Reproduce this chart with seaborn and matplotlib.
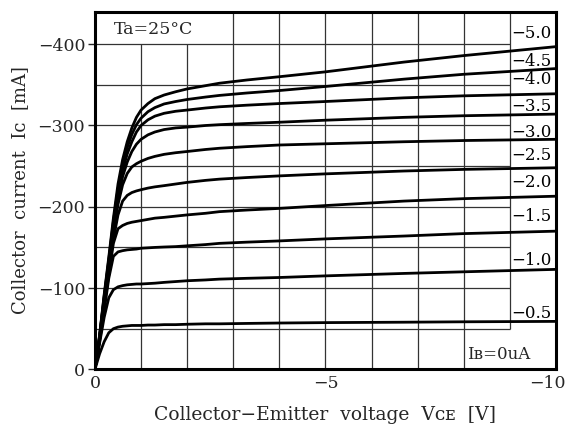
import numpy as np
import pandas as pd
import matplotlib
matplotlib.use('Agg')
import matplotlib.pyplot as plt
import matplotlib.transforms as mtrans
import seaborn as sns

# VCE points [V] shared by all curves
vce = [0, -0.1, -0.2, -0.3, -0.4, -0.5, -0.6, -0.7, -0.8, -0.9, -1.0, -1.15,
       -1.3, -1.5, -1.75, -2.0, -2.4, -2.7, -3.3, -4.0, -5.0, -6.7, -8.0, -10.0]

# base current labels [mA]
ib_labels = ['−0.5', '−1.0', '−1.5', '−2.0', '−2.5',
             '−3.0', '−3.5', '−4.0', '−4.5', '−5.0']

# collector current magnitude [mA] for each base current
ic_05 = [0, 19, 34, 45, 50, 52, 53, 53.5, 54, 54, 54, 54.5,
         54.5, 55, 55, 55.5, 56, 56, 56.5, 57, 57.5, 58, 58.5, 59]
ic_10 = [0, 32, 64, 88, 98, 101.5, 103, 104, 104.5, 105, 105, 105.5,
         106, 107, 108, 109, 110, 111, 112, 113, 115, 118, 120, 123]
ic_15 = [0, 34, 72, 112, 139, 144.5, 146, 147, 147.5, 148, 149, 149.5,
         150, 150.5, 151, 152, 153.5, 155, 156.5, 158, 160.5, 164, 167, 170]
ic_20 = [0, 36, 78, 116, 155, 173, 177, 179.5, 181, 182, 183, 184.5,
         186, 187, 188.5, 190, 192, 194, 196, 198, 201.5, 207, 210, 213]
ic_25 = [0, 37, 82, 122, 160, 190, 207, 214, 217.5, 219.5, 221, 223,
         224.5, 226, 228, 230, 232.5, 234, 236, 238, 240.5, 244, 246, 248]
ic_30 = [0, 38, 84, 126, 168, 203, 227, 241, 249, 253, 256, 259.5,
         262, 264.5, 266.5, 268, 270.5, 272, 274, 276, 277.5, 280, 281.5, 283]
ic_35 = [0, 39, 86, 129, 173, 210, 237, 255, 268, 277, 283, 288.5,
         292, 295, 297, 298, 300, 301, 302.5, 304, 306.5, 310, 312, 314]
ic_40 = [0, 40, 88, 132, 178, 216, 245, 265, 280, 292, 300, 307,
         311.5, 315, 317.5, 319, 321.5, 323, 325, 327, 329.5, 334, 336.5, 339]
ic_45 = [0, 41, 90, 135, 182, 222, 252, 273, 289, 301, 309, 317,
         322, 326.5, 329.5, 332, 335, 337, 340, 343, 348, 357, 363, 370]
ic_50 = [0, 42, 92, 138, 186, 228, 258, 280, 297, 310, 319, 327,
         333, 337.5, 341.5, 345, 349, 352, 356, 360, 366, 378, 386, 397]

# label heights at the right edge [mA]
label_ic = [69, 134.5, 188, 229.5, 263.5, 291, 323, 356, 379, 413]

curves = [ic_05, ic_10, ic_15, ic_20, ic_25, ic_30, ic_35, ic_40, ic_45, ic_50]
rows = []
for lab, ic in zip(ib_labels, curves):
    for v, i in zip(vce, ic):
        rows.append({'ib': lab, 'vce': v, 'ic': -i})
df = pd.DataFrame(rows)

sns.set_theme(style='white')
plt.rcParams['font.family'] = ['DejaVu Serif', 'DejaVu Sans']
plt.rcParams['axes.unicode_minus'] = True

fig = plt.figure(figsize=(5.72, 4.33), dpi=100)
ax = fig.add_axes([0.166, 0.147, 0.806, 0.826])

# grid (drawn by hand, it stops short of the label column)
gcol = '#333333'
ax.hlines(np.arange(-50, -401, -50), 0, -9, colors=gcol, lw=0.9, zorder=1)
ax.vlines([-3, -4, -5, -6, -7, -8], 0, -440, colors=gcol, lw=0.9, zorder=1)
ax.vlines([-1, -2], 0, -400, colors=gcol, lw=0.9, zorder=1)
ax.vlines(-9, -50, -440, colors=gcol, lw=0.9, zorder=1)

sns.lineplot(data=df, x='vce', y='ic', hue='ib', units='ib', estimator=None,
             sort=False, palette={k: 'black' for k in ib_labels},
             lw=2.0, legend=False, ax=ax, zorder=3)

for lab, y in zip(ib_labels, label_ic):
    ax.text(-9.03, -y, lab, ha='left', va='center', fontsize=12, color='black')

ax.text(-0.42, -418, 'Ta=25°C', ha='left', va='center', fontsize=12.5)
ax.text(-8.07, -18, 'Iʙ=0uA', ha='left', va='center', fontsize=12)

ax.set_xlim(0, -10)
ax.set_ylim(0, -440)
ax.set_xticks([0, -5, -10])
ax.set_yticks([0, -100, -200, -300, -400])
ax.tick_params(axis='y', direction='out', length=5, width=1, pad=2, labelsize=12.5, left=True)
ax.tick_params(axis='x', length=0, pad=4, labelsize=12.5)

# last x tick label sits a little to the left so it stays inside the figure
last = ax.get_xticklabels()[-1]
last.set_transform(last.get_transform() + mtrans.ScaledTranslation(-6 / 72, 0, fig.dpi_scale_trans))

for s in ax.spines.values():
    s.set_linewidth(2.2)
    s.set_color('black')

ax.set_xlabel('Collector−Emitter  voltage  Vᴄᴇ  [V]', fontsize=13.5, labelpad=10)
ax.set_ylabel('Collector  current  Iᴄ  [mA]', fontsize=13, labelpad=6)

fig.savefig('out.png', dpi=100)
